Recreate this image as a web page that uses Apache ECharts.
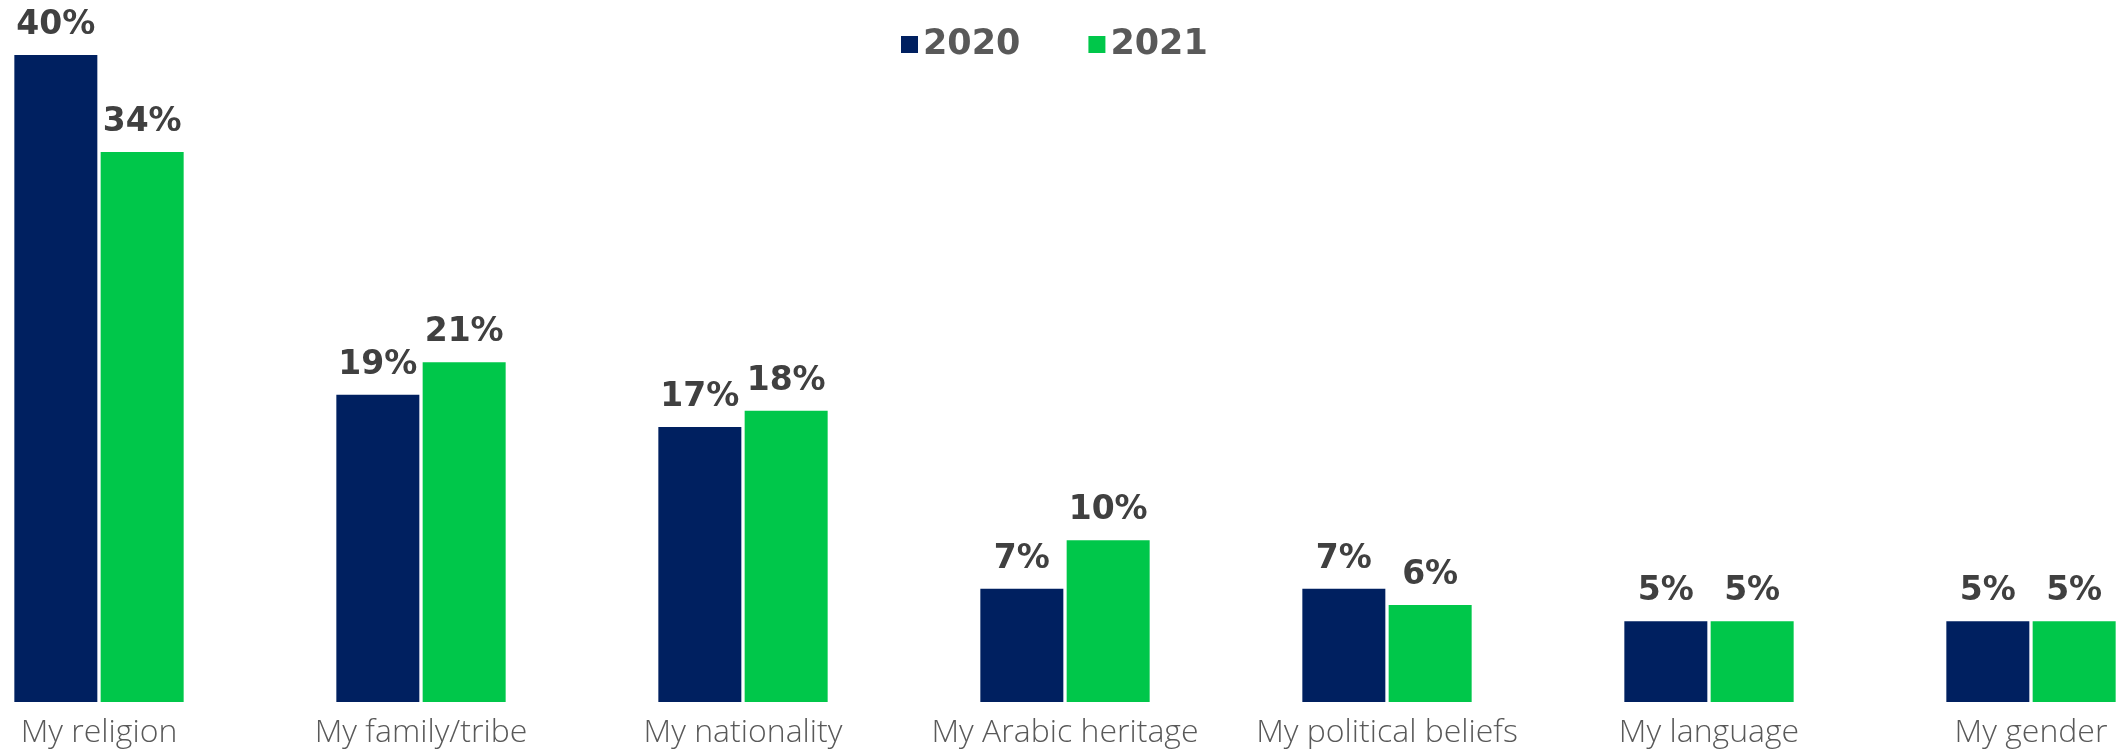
<!DOCTYPE html>
<html>
<head>
<meta charset="utf-8">
<script src="https://cdn.jsdelivr.net/npm/echarts@6/dist/echarts.min.js"></script>
<style>
  html, body { margin: 0; padding: 0; background: #fff; }
  #chart { width: 2124px; height: 750px; }
</style>
</head>
<body>
<div id="chart"></div>
<script>
const categories = ['My religion', 'My family/tribe', 'My nationality', 'My Arabic heritage', 'My political beliefs', 'My language', 'My gender']
const values2020 = [40, 19, 17, 7, 7, 5, 5]
const values2021 = [34, 21, 18, 10, 6, 5, 5]
const seriesNames = ['2020', '2021']

const labelStyle = {
  show: true,
  position: 'top',
  distance: 13,
  formatter: '{c}%',
  fontFamily: 'DejaVu Sans',
  fontWeight: 'bold',
  fontSize: 33,
  color: '#404040'
}

const chart = echarts.init(document.getElementById('chart'))
chart.setOption({
  animation: false,
  backgroundColor: '#fff',
  legend: {
    left: 896,
    top: 22,
    icon: 'rect',
    itemWidth: 17,
    itemHeight: 17,
    itemGap: 68,
    textStyle: {
      fontFamily: 'DejaVu Sans',
      fontWeight: 'bold',
      fontSize: 35,
      color: '#595959'
    },
    data: seriesNames
  },
  // grid runs past the page edges so the first and last groups sit at the borders
  grid: {
    left: -62,
    right: -68,
    top: 55,
    bottom: 48,
    outerBoundsMode: 'none'
  },
  xAxis: {
    type: 'category',
    data: categories,
    axisLine: { show: false },
    axisTick: { show: false },
    axisLabel: {
      margin: 15,
      fontFamily: 'Open Sans',
      fontWeight: 300,
      fontSize: 32,
      color: '#595959',
      interval: 0
    }
  },
  yAxis: {
    type: 'value',
    min: 0,
    max: 40,
    show: false,
    splitLine: { show: false }
  },
  series: [
    {
      name: seriesNames[0],
      type: 'bar',
      data: values2020,
      barWidth: 83,
      barGap: '4%',
      itemStyle: { color: '#002060' },
      label: labelStyle
    },
    {
      name: seriesNames[1],
      type: 'bar',
      data: values2021,
      barWidth: 83,
      itemStyle: { color: '#00C74A' },
      label: labelStyle
    }
  ]
})
</script>
</body>
</html>
